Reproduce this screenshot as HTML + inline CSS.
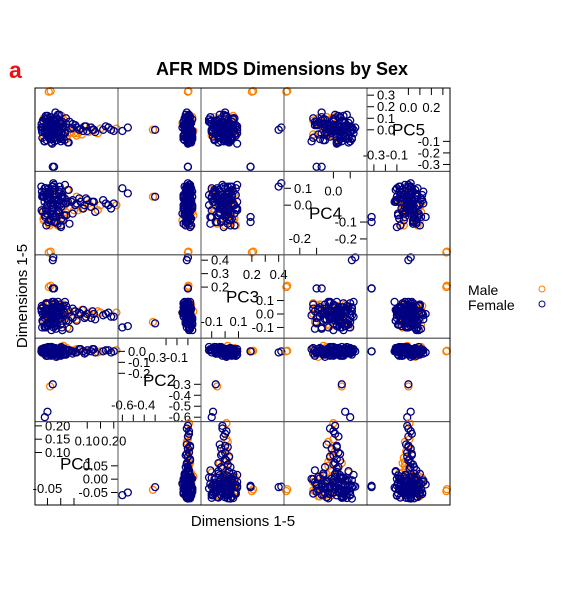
<!DOCTYPE html>
<html><head><meta charset="utf-8">
<style>
html,body{margin:0;padding:0;background:#fff;}
svg{display:block;font-family:"Liberation Sans",sans-serif;}
</style></head>
<body>
<svg id="chart" width="563" height="600" viewBox="0 0 563 600">
<text x="9" y="78" font-size="23" font-weight="bold" fill="#ee1111">a</text>
<text x="282" y="75" font-size="18" font-weight="bold" text-anchor="middle">AFR MDS Dimensions by Sex</text>
<text x="243" y="526" font-size="15" text-anchor="middle">Dimensions 1-5</text>
<text transform="translate(27,296) rotate(-90)" font-size="15" text-anchor="middle">Dimensions 1-5</text>
<g>
<text x="468" y="295" font-size="14">Male</text>
<circle cx="542" cy="289" r="3" fill="none" stroke="#ff7f00" stroke-width="1"/>
<text x="468" y="310" font-size="14">Female</text>
<circle cx="542" cy="304" r="3" fill="none" stroke="#000080" stroke-width="1"/>
</g>
<g id="panels"></g>
</svg>
<script>
const varNames = ["PC1","PC2","PC3","PC4","PC5"];
const varMin = [-0.097,-0.64,-0.18,-0.294,-0.36];
const varMax = [0.216,0.12,0.44,0.2,0.362];
const tickUpper = [[0.10,0.15,0.20],[0.0,-0.1,-0.2],[0.2,0.3,0.4],[0.0,0.1],[0.0,0.1,0.2,0.3]];
const tickLower = [[-0.05,0.00,0.05],[-0.3,-0.4,-0.5,-0.6],[-0.1,0.0,0.1],[-0.1,-0.2],[-0.1,-0.2,-0.3]];
const xTopLabels = [[0.10,0.20],[-0.3,-0.1],[0.2,0.4],[0.0],[0.0,0.2]];
const xBottomLabels = [[-0.05],[-0.6,-0.4],[-0.1,0.1],[-0.2],[-0.3,-0.1]];
const tickDigits = [2,1,1,1,1];

const pc1 = [-0.07,-0.065,-0.06,-0.055,-0.05,-0.045,-0.04,-0.035,-0.03,-0.025,-0.02,-0.015,-0.01,-0.005,0.0,0.005,0.01,0.02,0.03,-0.068,-0.052,-0.047,-0.038,-0.028,-0.018,-0.008,0.002,0.012,-0.062,-0.044,-0.033,-0.022,-0.012,0.004,0.015,-0.058,-0.041,-0.026,-0.009,0.008,-0.066,-0.036,-0.016,0.025,-0.054,-0.03,-0.004,0.018,-0.048,-0.02,
 0.04,0.05,0.06,0.07,0.08,0.09,0.1,0.11,0.12,0.13,0.15,0.17,0.19,0.21,
 -0.045,-0.038,-0.03,-0.025,-0.03,-0.028,-0.06,-0.05,-0.04,-0.03,
 -0.072,-0.069,-0.064,-0.061,-0.057,-0.053,-0.049,-0.046,-0.042,-0.039,-0.034,-0.031,-0.027,-0.024,-0.019,-0.014,-0.011,-0.006,-0.001,0.003,0.007,0.011,0.016,0.021,0.027,0.033,-0.071,-0.063,-0.056,-0.051,-0.043,-0.037,-0.029,-0.021,-0.013,-0.007,0.001,0.009,-0.067,-0.059,-0.046,-0.034,-0.023,-0.017,-0.003,0.006,0.014,-0.073,-0.061,-0.049,-0.039,-0.032,-0.024,-0.011,0.0,-0.055,-0.042,-0.027,-0.015,0.022,
 0.035,0.045,0.055,0.065,0.075,0.085,0.095,0.105,0.115,0.125,0.14,0.16,0.18,0.2,0.045,0.06];
const pc2 = [0.01,-0.02,0.03,-0.04,0.0,0.02,-0.01,0.04,-0.03,0.01,-0.05,0.02,0.0,-0.02,0.03,-0.01,0.05,-0.03,0.01,0.02,-0.04,0.0,0.03,-0.01,0.02,-0.03,0.04,-0.02,0.01,0.0,-0.01,0.03,-0.04,0.02,-0.02,0.01,0.04,-0.03,0.0,0.02,-0.01,0.03,-0.05,0.01,-0.02,0.0,0.02,-0.03,0.04,-0.01,
 0.0,0.01,-0.01,0.02,0.0,-0.02,0.01,0.0,0.02,-0.01,0.0,0.01,-0.01,0.01,
 0.0,0.005,0.0,0.0,-0.01,0.0,-0.6,-0.55,-0.32,-0.3,
 0.02,-0.01,0.0,0.03,-0.02,0.01,-0.04,0.02,0.0,-0.01,0.04,-0.03,0.01,0.0,-0.02,0.03,0.01,-0.01,0.02,0.0,-0.03,0.01,0.02,-0.02,0.0,0.01,-0.01,0.03,0.0,-0.02,0.02,-0.04,0.01,0.0,0.03,-0.01,0.02,-0.03,0.0,0.01,-0.02,0.04,0.0,-0.01,0.02,0.01,-0.03,0.0,0.02,-0.01,0.03,0.0,-0.02,0.01,-0.04,0.02,0.0,-0.01,0.01,0.03,
 0.01,0.0,-0.01,0.01,0.02,0.0,-0.01,0.01,0.0,0.02,-0.01,0.0,0.01,0.0,-0.02,0.02];
const pc3 = [-0.1,0.05,-0.03,0.08,0.0,-0.06,0.03,-0.12,0.07,-0.02,0.01,-0.08,0.09,-0.04,0.04,-0.1,0.02,0.06,-0.05,0.0,0.08,-0.07,0.03,-0.01,-0.11,0.05,-0.03,0.07,0.01,-0.06,0.04,-0.09,0.02,0.06,-0.04,0.0,-0.08,0.09,-0.02,0.03,0.05,-0.05,0.01,-0.1,0.07,-0.03,0.02,0.04,-0.07,0.0,
 -0.02,0.02,-0.05,0.01,0.03,-0.03,0.0,-0.01,0.02,-0.04,0.01,0.0,-0.02,0.01,
 0.2,0.21,0.19,0.19,0.4,0.42,-0.1,-0.09,-0.06,-0.07,
 0.02,-0.05,0.06,-0.09,0.0,0.04,-0.02,-0.07,0.08,0.01,-0.04,0.05,-0.1,0.03,-0.06,0.07,-0.01,0.02,-0.08,0.05,0.0,-0.03,0.09,-0.05,0.03,-0.11,0.06,-0.02,0.01,-0.07,0.04,0.0,-0.04,0.08,-0.09,0.02,-0.01,0.06,-0.06,0.03,0.0,-0.08,0.05,-0.03,0.07,-0.12,0.01,0.04,-0.05,0.02,-0.02,0.09,-0.07,0.0,0.05,-0.1,0.03,-0.04,0.06,-0.01,
 0.01,-0.03,0.02,-0.01,0.0,0.03,-0.02,0.01,-0.03,0.0,0.02,-0.01,0.01,-0.02,0.04,-0.04];
const pc4 = [0.05,-0.08,0.1,-0.02,0.03,-0.11,0.07,0.0,-0.05,0.12,-0.09,0.02,-0.03,0.08,-0.12,0.04,-0.06,0.01,0.09,-0.04,0.06,-0.1,0.0,0.11,-0.07,0.03,-0.01,-0.08,0.05,0.1,-0.03,0.07,-0.11,0.02,0.04,-0.06,0.08,-0.02,0.0,-0.09,0.06,0.03,-0.05,0.09,-0.12,0.01,0.11,-0.04,0.05,-0.07,
 0.02,-0.03,0.01,0.04,-0.02,0.0,0.03,-0.01,0.02,-0.04,0.0,0.01,-0.02,0.0,
 -0.28,-0.275,-0.07,-0.1,0.11,0.13,0.1,0.07,0.05,0.05,
 -0.03,0.06,-0.09,0.02,0.1,-0.05,0.0,0.08,-0.12,0.04,-0.02,0.11,-0.07,0.03,-0.1,0.07,0.01,-0.04,0.09,-0.08,0.05,-0.01,0.12,-0.06,0.02,-0.11,0.08,-0.03,0.06,0.0,-0.09,0.04,-0.05,0.1,-0.02,0.07,-0.13,0.01,0.05,-0.07,0.03,-0.04,0.09,-0.1,0.0,0.06,-0.06,0.11,-0.01,0.04,-0.08,0.02,0.07,-0.12,0.05,-0.03,0.08,-0.05,0.0,0.03,
 -0.01,0.03,0.0,-0.03,0.02,-0.02,0.04,0.01,-0.01,0.02,-0.03,0.03,0.0,0.01,-0.05,0.05];
const pc5 = [-0.02,0.08,-0.1,0.04,0.12,-0.06,0.01,0.09,-0.04,0.0,0.06,-0.09,0.03,0.13,-0.07,0.05,-0.01,0.1,-0.11,0.02,-0.05,0.07,0.0,-0.08,0.11,0.03,-0.03,0.06,-0.1,0.08,0.01,-0.06,0.04,0.12,-0.02,0.09,-0.08,0.0,0.05,-0.04,0.07,-0.11,0.02,-0.05,0.1,0.03,-0.07,0.06,-0.01,0.15,
 0.01,-0.03,0.02,0.0,-0.04,0.03,-0.01,0.02,0.0,-0.02,0.01,0.03,0.0,0.01,
 0.33,0.335,-0.32,-0.32,0.0,0.02,-0.01,0.02,0.0,0.0,
 0.05,-0.07,0.1,-0.01,0.03,-0.09,0.07,0.0,-0.04,0.11,-0.06,0.02,0.08,-0.1,0.04,-0.02,0.13,-0.05,0.06,-0.08,0.01,0.09,-0.03,0.05,-0.11,0.07,0.0,-0.06,0.12,-0.02,0.04,-0.08,0.09,0.02,-0.05,0.06,-0.1,0.03,0.08,-0.03,0.0,0.11,-0.07,0.05,-0.01,0.07,-0.09,0.02,0.1,-0.04,0.06,-0.12,0.03,0.08,-0.06,0.0,0.04,-0.03,0.09,-0.08,
 -0.02,0.02,0.04,-0.03,0.01,-0.01,0.03,-0.02,0.02,0.0,-0.03,0.0,0.02,-0.01,0.05,-0.05];
const sex = ["F","M","F","F","F","M","F","F","F","F","M","F","F","F","F","F","M","F","F","F","F","F","M","F","F","F","F","M","F","F","F","F","F","M","F","F","F","F","M","F","F","F","F","M","F","F","F","M","F","F",
 "F","M","F","F","M","F","F","M","F","F","M","F","F","M",
 "M","M","F","F","F","F","F","F","M","F",
 "F","F","M","F","F","F","F","F","M","F","F","F","F","F","F","M","F","F","F","F","F","M","F","F","F","F","F","M","F","F","F","F","F","F","M","F","F","F","F","F","F","M","F","F","F","F","F","F","M","F","F","F","F","M","F","F","F","F","F","M",
 "M","F","F","M","F","F","F","M","F","F","M","F","F","F","F","M"];
const data = [pc1,pc2,pc3,pc4,pc5];

const NS = "http://www.w3.org/2000/svg";
const g = document.getElementById("panels");
const X0 = 35, Y0 = 88, PW = 83, PH = 83.4, N = 5;
const COL = {M:"#ff7f00", F:"#000080"};
function mk(tag, attrs, parent){const e=document.createElementNS(NS,tag);for(const k in attrs)e.setAttribute(k,attrs[k]);(parent||g).appendChild(e);return e;}
function sx(v,i,c){return X0+c*PW+(v-varMin[i])/(varMax[i]-varMin[i])*PW;}
function sy(v,i,r){return Y0+(r+1)*PH-(v-varMin[i])/(varMax[i]-varMin[i])*PH;}

const order = [];
for(let k=0;k<sex.length;k++) if(sex[k]==="M") order.push(k);
for(let k=0;k<sex.length;k++) if(sex[k]==="F") order.push(k);

for(let r=0;r<N;r++){
  for(let c=0;c<N;c++){
    const yi = N-1-r, xi = c;
    const px = X0+c*PW, py = Y0+r*PH;
    const pg = mk("g",{});
    
    
    if(xi===yi){
      const i = xi;
      const nm = mk("text",{x:px+PW/2,y:py+PH/2+6,"font-size":17,"text-anchor":"middle"},pg);
      nm.textContent = varNames[i];
      
      
      tickUpper[i].forEach(function(v){
        const y = sy(v,i,r);
        mk("line",{x1:px,x2:px+7,y1:y,y2:y,stroke:"#000","stroke-width":1},pg);
        const t = mk("text",{x:px+10,y:y+4.5,"font-size":13},pg);
        t.textContent = v.toFixed(tickDigits[i]);
        
        
        const x = sx(v,i,c);
        mk("line",{x1:x,x2:x,y1:py,y2:py+7,stroke:"#000","stroke-width":1},pg);
      });
      tickLower[i].forEach(function(v){
        const y = sy(v,i,r);
        mk("line",{x1:px+PW-7,x2:px+PW,y1:y,y2:y,stroke:"#000","stroke-width":1},pg);
        const t = mk("text",{x:px+PW-10,y:y+4.5,"font-size":13,"text-anchor":"end"},pg);
        t.textContent = v.toFixed(tickDigits[i]);
        
        
        const x = sx(v,i,c);
        mk("line",{x1:x,x2:x,y1:py+PH-7,y2:py+PH,stroke:"#000","stroke-width":1},pg);
      });
      xTopLabels[i].forEach(function(v){
        const t = mk("text",{x:sx(v,i,c),y:py+24,"font-size":13,"text-anchor":"middle"},pg);
        t.textContent = v.toFixed(tickDigits[i]);
        
        
      });
      xBottomLabels[i].forEach(function(v){
        const t = mk("text",{x:sx(v,i,c),y:py+PH-12,"font-size":13,"text-anchor":"middle"},pg);
        t.textContent = v.toFixed(tickDigits[i]);
        
        
      });
    } else {
      order.forEach(function(k){
        const p = mk("circle",{cx:sx(data[xi][k],xi,c),cy:sy(data[yi][k],yi,r),r:3.5,fill:"none",stroke:COL[sex[k]],"stroke-width":1.3},pg);
        
        
      });
    }
    const b = mk("rect",{x:px,y:py,width:PW,height:PH,fill:"none",stroke:"#555","stroke-width":1},pg);
    
    
  }
}
const ob = mk("rect",{x:X0,y:Y0,width:PW*N,height:PH*N,fill:"none",stroke:"#000","stroke-width":1});


</script>
</body></html>
